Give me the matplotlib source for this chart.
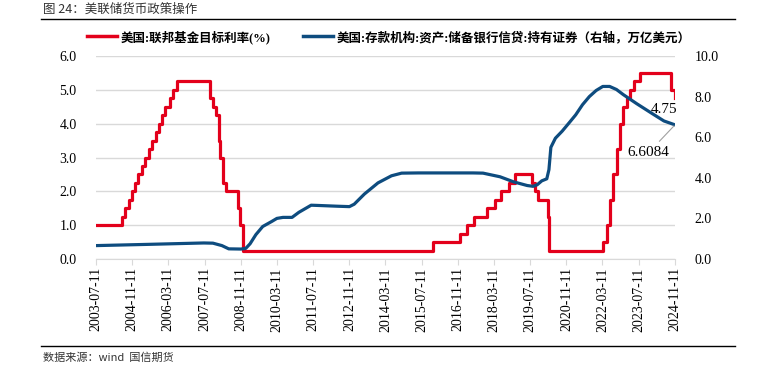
import matplotlib
matplotlib.use("Agg")
import matplotlib.pyplot as plt
from matplotlib.lines import Line2D
import pandas as pd

plt.rcParams['font.family'] = ['Liberation Serif', 'Noto Sans CJK SC']
plt.rcParams['axes.unicode_minus'] = False

# fed funds target rate (upper bound), change dates and levels
rate_dates = ['2003-07-11', '2004-06-30', '2004-08-10', '2004-09-21', '2004-11-10',
              '2004-12-14', '2005-02-02', '2005-03-22', '2005-05-03', '2005-06-30',
              '2005-08-09', '2005-09-20', '2005-11-01', '2005-12-13', '2006-01-31',
              '2006-03-28', '2006-05-10', '2006-06-29', '2007-09-18', '2007-10-31',
              '2007-12-11', '2008-01-22', '2008-01-30', '2008-03-18', '2008-04-30',
              '2008-10-08', '2008-10-29', '2008-12-16', '2015-12-16', '2016-12-14',
              '2017-03-15', '2017-06-14', '2017-12-13', '2018-03-21', '2018-06-13',
              '2018-09-26', '2018-12-19', '2019-07-31', '2019-09-18', '2019-10-30',
              '2020-03-03', '2020-03-15', '2022-03-16', '2022-05-04', '2022-06-15',
              '2022-07-27', '2022-09-21', '2022-11-02', '2022-12-14', '2023-02-01',
              '2023-03-22', '2023-05-03', '2023-07-26', '2024-09-18', '2024-11-07',
              '2024-11-11']
rate_vals = [1.00, 1.25, 1.50, 1.75, 2.00,
             2.25, 2.50, 2.75, 3.00, 3.25,
             3.50, 3.75, 4.00, 4.25, 4.50,
             4.75, 5.00, 5.25, 4.75, 4.50,
             4.25, 3.50, 3.00, 2.25, 2.00,
             1.50, 1.00, 0.25, 0.50, 0.75,
             1.00, 1.25, 1.50, 1.75, 2.00,
             2.25, 2.50, 2.25, 2.00, 1.75,
             1.25, 0.25, 0.50, 1.00, 1.75,
             2.50, 3.25, 4.00, 4.50, 4.75,
             5.00, 5.25, 5.50, 5.00, 4.75,
             4.75]

# securities held outright, trillion USD (right axis)
sec_dates = ['2003-07-11', '2005-06-01', '2007-07-01', '2007-11-01', '2008-03-01',
             '2008-06-01', '2008-11-11', '2009-01-15', '2009-03-15', '2009-06-01',
             '2009-09-01', '2010-01-01', '2010-03-11', '2010-06-01', '2010-10-01',
             '2011-01-01', '2011-06-15', '2011-09-01', '2012-06-01', '2012-11-11',
             '2013-01-15', '2013-06-01', '2013-12-01', '2014-06-01', '2014-10-15',
             '2015-06-01', '2017-06-01', '2017-10-15', '2018-06-01', '2018-12-01',
             '2019-06-01', '2019-08-20', '2019-10-15', '2019-12-15', '2020-02-20',
             '2020-03-20', '2020-04-15', '2020-06-15', '2020-09-15', '2020-12-15',
             '2021-03-15', '2021-06-15', '2021-09-15', '2021-12-15', '2022-03-15',
             '2022-06-15', '2022-09-15', '2022-12-15', '2023-06-15', '2024-01-15',
             '2024-06-15', '2024-11-11']
sec_vals = [0.66, 0.72, 0.79, 0.78, 0.66,
            0.50, 0.49, 0.52, 0.75, 1.20,
            1.60, 1.85, 2.00, 2.05, 2.05,
            2.30, 2.65, 2.64, 2.60, 2.58,
            2.70, 3.20, 3.75, 4.10, 4.23,
            4.24, 4.24, 4.23, 4.05, 3.80,
            3.62, 3.58, 3.66, 3.85, 3.95,
            4.40, 5.50, 5.95, 6.30, 6.70,
            7.10, 7.60, 8.00, 8.30, 8.50,
            8.50, 8.35, 8.10, 7.65, 7.15,
            6.80, 6.6084]

tick_dates = ['2003-07-11', '2004-11-11', '2006-03-11', '2007-07-11', '2008-11-11',
              '2010-03-11', '2011-07-11', '2012-11-11', '2014-03-11', '2015-07-11',
              '2016-11-11', '2018-03-11', '2019-07-11', '2020-11-11', '2022-03-11',
              '2023-07-11', '2024-11-11']

RED = '#E3001B'
BLUE = '#0E4C7F'
GRID = '#D9D9D9'

fig = plt.figure(figsize=(7.7, 3.69), dpi=100)
ax = fig.add_axes([96 / 770, 1 - 259 / 369, (675 - 96) / 770, (259 - 56) / 369])
ax2 = ax.twinx()

rd = pd.to_datetime(rate_dates)
sd = pd.to_datetime(sec_dates)
ax.plot(rd, rate_vals, color=RED, lw=2.3, drawstyle='steps-post', zorder=3)
ax2.plot(sd, sec_vals, color=BLUE, lw=2.3, zorder=3)

ax.set_ylim(0, 6)
ax.set_yticks([0, 1, 2, 3, 4, 5, 6])
ax.set_yticklabels([f'{v:.1f}' for v in range(7)])
ax2.set_ylim(0, 10)
ax2.set_yticks([0, 2, 4, 6, 8, 10])
ax2.set_yticklabels([f'{v:.1f}' for v in range(0, 11, 2)])

td = pd.to_datetime(tick_dates)
ax.set_xlim(td[0], td[-1])
ax.set_xticks(td)
ax.set_xticklabels(tick_dates, rotation=90)

ax.grid(axis='y', color=GRID, lw=1)
ax.set_axisbelow(True)
for a in (ax, ax2):
    for s in ('top', 'left', 'right'):
        a.spines[s].set_visible(False)
    a.spines['bottom'].set_color(GRID)
ax2.spines['bottom'].set_visible(False)
ax.tick_params(axis='x', length=4, color=GRID, labelsize=10, pad=2)
ax.tick_params(axis='y', length=0, labelsize=10, pad=14)
ax2.tick_params(axis='y', length=0, labelsize=10, pad=14)

ax.annotate('4.75', xy=(rd[-1], 4.75), xytext=(-8, -8), textcoords='offset points',
            ha='center', va='center', fontsize=11)
ax2.annotate('6.6084', xy=(sd[-1], 6.6084), xytext=(-19, -20), textcoords='offset points',
             ha='center', va='center', fontsize=11,
             arrowprops=dict(arrowstyle='-', color='#A0A0A0', lw=0.8, shrinkA=2, shrinkB=1))

handles = [Line2D([], [], color=RED, lw=2.5), Line2D([], [], color=BLUE, lw=2.5)]
labels = ['美国:联邦基金目标利率(%)', '美国:存款机构:资产:储备银行信贷:持有证券（右轴，万亿美元）']
fig.legend(handles, labels, loc='center left', bbox_to_anchor=(82 / 770, 1 - 37 / 369),
           ncol=2, frameon=False, prop={'size': 9, 'weight': 'bold'},
           handlelength=2.4, handletextpad=0.3, columnspacing=2.6, borderaxespad=0)

fig.text(43 / 770, 1 - 9 / 369, '图 24：美联储货币政策操作', fontsize=9, va='center',
         family=['Noto Sans CJK SC'], color='#333333')
fig.text(43 / 770, 1 - 358 / 369, '数据来源：wind  国信期货', fontsize=8, va='center',
         family=['Noto Sans CJK SC'], color='#333333')
fig.add_artist(Line2D([41 / 770, 735 / 770], [1 - 19 / 369, 1 - 19 / 369], color='black', lw=1))
fig.add_artist(Line2D([41 / 770, 735 / 770], [1 - 346 / 369, 1 - 346 / 369], color='black', lw=1))

fig.savefig('out.png', dpi=100)
